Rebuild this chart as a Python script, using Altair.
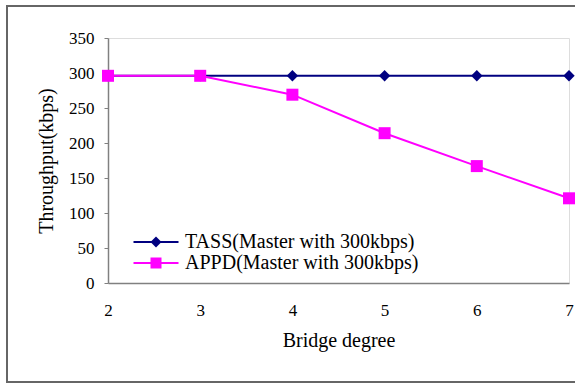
import altair as alt
import pandas as pd

bridge_degree = [2, 3, 4, 5, 6, 7]
tass = [296, 296, 296, 296, 296, 296]
appd = [296, 296, 269, 214, 167, 121]
series_names = ["TASS(Master with 300kbps)", "APPD(Master with 300kbps)"]
series_colors = ["#000080", "#FF00FF"]
y_ticks = [0, 50, 100, 150, 200, 250, 300, 350]

rows = []
for name, vals in zip(series_names, [tass, appd]):
    for xv, yv in zip(bridge_degree, vals):
        rows.append({"degree": xv, "throughput": yv, "series": name})
df = pd.DataFrame(rows)

FONT = "Liberation Serif"

x_enc = alt.X("degree:Q",
              scale=alt.Scale(domain=[2, 7], nice=False, zero=False),
              axis=alt.Axis(values=bridge_degree, title="Bridge degree", grid=False,
                            ticks=False, labelPadding=19, titlePadding=12,
                            labelFontSize=17, titleFontSize=20, labelFont=FONT,
                            titleFont=FONT, labelColor="#000", titleColor="#000",
                            titleFontWeight="normal", domainColor="#808080",
                            domainWidth=1.5, labelFlush=False))
y_enc = alt.Y("throughput:Q",
              scale=alt.Scale(domain=[0, 350], nice=False),
              axis=alt.Axis(values=y_ticks, title="Throughput(kbps)", grid=False,
                            tickSize=4, tickColor="#808080", labelPadding=10,
                            titlePadding=12, labelFontSize=17, titleFontSize=20,
                            labelFont=FONT, titleFont=FONT, labelColor="#000",
                            titleColor="#000", titleFontWeight="normal",
                            domainColor="#808080", domainWidth=1.5))

color_scale = alt.Scale(domain=series_names, range=series_colors)

lines = alt.Chart(df).mark_line(strokeWidth=2).encode(
    x=x_enc, y=y_enc,
    color=alt.Color("series:N", scale=color_scale, legend=None),
    detail="series:N",
)

points = alt.Chart(df).mark_point(filled=True, opacity=1).encode(
    x=x_enc, y=y_enc,
    color=alt.Color("series:N", scale=color_scale, legend=None),
    shape=alt.Shape("series:N", scale=alt.Scale(domain=series_names, range=["diamond", "square"]), legend=None),
    size=alt.Size("series:N", scale=alt.Scale(domain=series_names, range=[130, 144]), legend=None),
)

line_path = "M-2.25,0H2.25"
marker_paths = [
    "M0,-0.55L0.55,0L0,0.55L-0.55,0Z",
    "M-0.55,-0.55H0.55V0.55H-0.55Z",
]


def legend_layer(i, ypos, path, filled, show_label):
    mark_kw = dict(strokeWidth=2, size=400, opacity=1, filled=filled, stroke=series_colors[i])
    if filled:
        mark_kw["fill"] = series_colors[i]
    legend_kw = dict(title=None, orient="none", legendX=37, legendY=ypos,
                     symbolSize=400, symbolStrokeWidth=2, symbolOpacity=1,
                     symbolStrokeColor=series_colors[i],
                     labelFontSize=20, labelFont=FONT, labelColor="#000",
                     labelOffset=18, padding=0, labelLimit=400)
    if not show_label:
        legend_kw["labelExpr"] = "''"
        legend_kw["labelOpacity"] = 0
    return alt.Chart(df).transform_filter("false").mark_point(**mark_kw).encode(
        x=x_enc, y=y_enc,
        shape=alt.Shape("series:N",
                        scale=alt.Scale(domain=[series_names[i]], range=[path]),
                        legend=alt.Legend(**legend_kw)),
    )


border = alt.Chart(pd.DataFrame({"k": [0]})).mark_rect(
    fill=None, stroke="#666666", strokeWidth=2, clip=False
).encode(x=alt.value(-101), x2=alt.value(480), y=alt.value(-32), y2=alt.value(344))

chart = alt.layer(
    border, lines, points,
    legend_layer(0, 193, line_path, False, False),
    legend_layer(0, 193, marker_paths[0], True, True),
    legend_layer(1, 214, line_path, False, False),
    legend_layer(1, 214, marker_paths[1], True, True),
).resolve_scale(
    color="independent", shape="independent", size="independent"
).properties(
    width=461, height=245,
    autosize=alt.AutoSizeParams(type="none"),
    padding={"left": 108, "top": 38, "right": 6, "bottom": 100},
).configure_view(stroke=None).configure(background="white")

chart.save("out.html", embed_options={"renderer": "svg", "actions": False})
